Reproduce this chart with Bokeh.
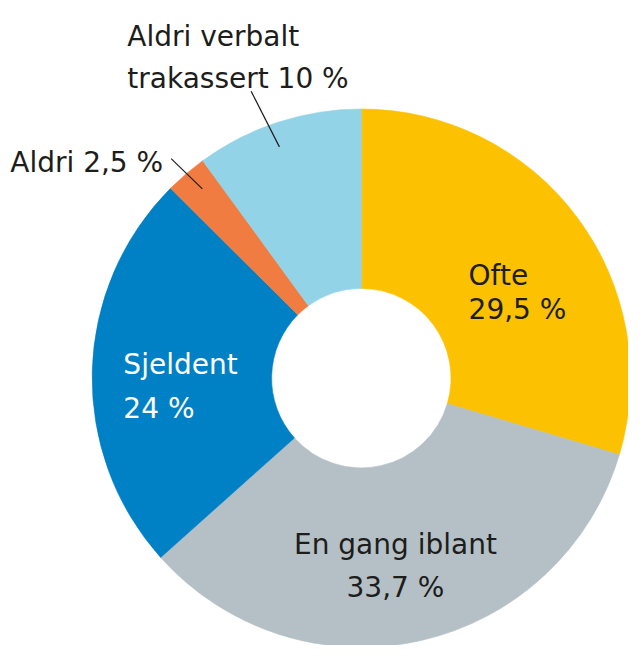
import numpy as np
from bokeh.plotting import figure
from bokeh.models import Range1d, ColumnDataSource
from bokeh.core.properties import value
from bokeh.embed import file_html
from bokeh.resources import INLINE

categories = ["Ofte", "En gang iblant", "Sjeldent", "Aldri", "Aldri verbalt trakassert"]
shares = [29.5, 33.7, 24.0, 2.5, 10.0]
colors = ["#FCC100", "#B5C0C6", "#0080C5", "#F07C42", "#93D3E8"]

label_lines = [
    ["Ofte", "29,5 %"],
    ["En gang iblant", "33,7 %"],
    ["Sjeldent", "24 %"],
    ["Aldri 2,5 %"],
    ["Aldri verbalt", "trakassert 10 %"],
]
label_colors = ["#1d1d1b", "#1d1d1b", "#ffffff", "#1d1d1b", "#1d1d1b"]
# label anchor positions (reference px, first baseline), line spacing, alignment
label_pos = [(480, 282, 35, "left"), (405, 557, 45, "center"), (126, 373, 45, "left"),
             (10, 166, 0, "left"), (130, 37, 43, "left")]
leaders = [None, None, None, ((175, 162), (207, 193)), ((257, 93), (286, 150))]

FONT = "DejaVu Sans"
W, H = 628, 645
p = figure(width=W, height=H, x_range=Range1d(0, 644), y_range=Range1d(-661, 0),
           output_backend="svg", toolbar_location=None, min_border=0)
p.axis.visible = False
p.grid.visible = False
p.outline_line_color = None
p.background_fill_color = "white"
p.border_fill_color = "white"

cx, cy = 370, 387
r_out, r_in = 276, 92
fr = np.array(shares) / sum(shares)
cum = np.concatenate([[0], np.cumsum(fr)])
start = np.pi / 2 - 2 * np.pi * cum[1:]
end = np.pi / 2 - 2 * np.pi * cum[:-1]
src = ColumnDataSource(dict(start=start, end=end, color=colors, cat=categories))
p.annular_wedge(x=cx, y=-cy, inner_radius=r_in, outer_radius=r_out,
                start_angle="start", end_angle="end", fill_color="color",
                line_color="color", line_width=0.6, source=src)

for lines, col, (lx, ly, dy, al), ld in zip(label_lines, label_colors, label_pos, leaders):
    xs = [lx] * len(lines)
    ys = [-(ly + i * dy) for i in range(len(lines))]
    p.text(x=xs, y=ys, text=lines, text_font=value(FONT), text_font_size="28px",
           text_color=col, text_align=al, text_baseline="alphabetic")
    if ld:
        (x0, y0), (x1, y1) = ld
        p.line([x0, x1], [-y0, -y1], line_color="#1d1d1b", line_width=1.2)

open("out.html", "w").write(file_html(p, INLINE))
